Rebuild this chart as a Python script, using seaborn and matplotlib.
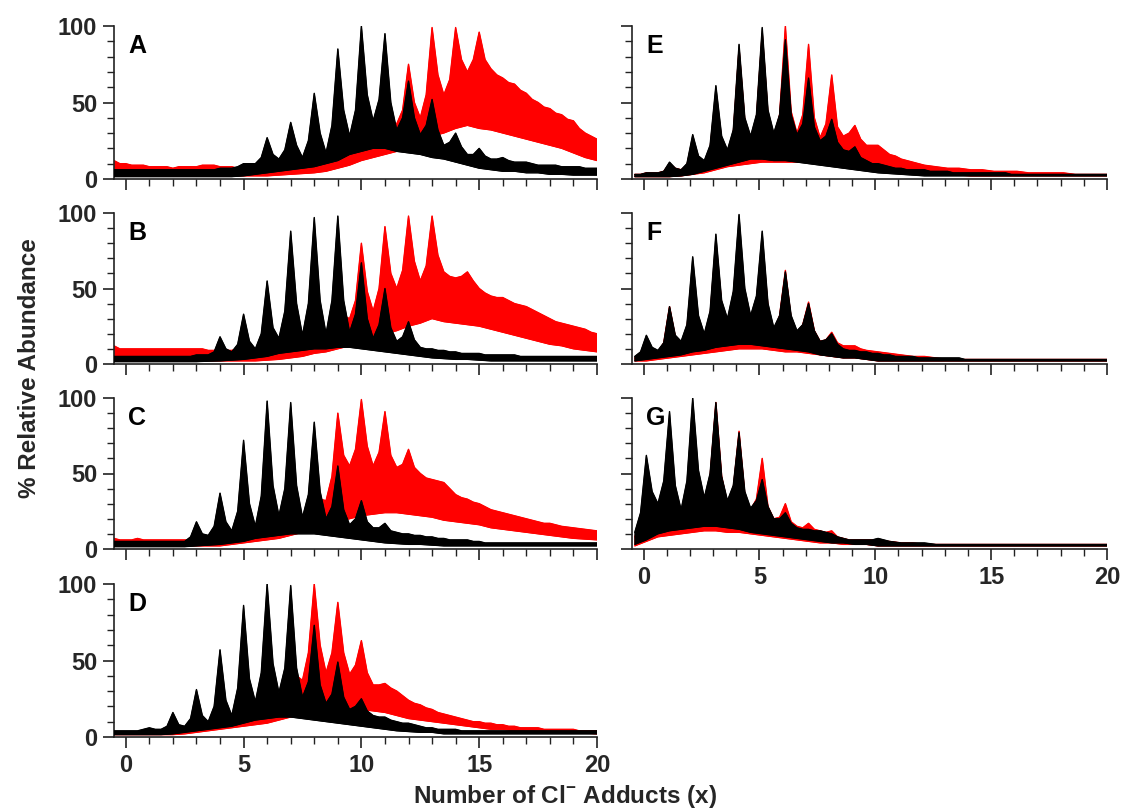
import numpy as np
import matplotlib
matplotlib.use("Agg")
import matplotlib.pyplot as plt
import seaborn as sns
from matplotlib.ticker import MultipleLocator

# ---------------- data ----------------
# sample grid: half-unit steps (peaks at the integers, valleys at the halves);
# the right-column spectra sit ~0.12 to the right of the integers.
x_left = np.arange(42) * 0.5 - 0.5
x_right = np.arange(42) * 0.5 - 0.38
# flank (shoulder) samples lie between each peak and valley
q_left = np.arange(41) * 0.5 - 0.25
q_right = np.arange(41) * 0.5 - 0.13

# Panel A
a_black_hi = [6, 6, 6, 6, 6, 6, 6, 6, 6, 7, 7, 10, 10, 27, 13, 37, 14, 56, 17, 85, 28,
              100, 38, 95, 32, 64, 29, 52, 22, 30, 16, 20, 13, 14, 11, 11, 9, 9, 8, 8, 7, 7]
a_black_sh = [6] * 9 + [7, 8, 10, 14, 16, 19, 22, 25, 30, 35, 45, 45, 55, 52, 50, 40, 40, 35,
                        32, 24, 21, 16, 15, 13, 12, 11, 10, 9, 9, 8, 8, 7]
a_black_lo = [1.5] * 11 + [2, 3, 4, 5, 6, 7, 8, 10, 12, 16, 18, 20, 20, 18, 17, 16, 14, 13,
                           11, 9, 7, 6, 5, 5, 4, 4, 3, 3, 2.5, 2.5, 2.5]
a_red_hi = [12, 10, 9, 8, 8, 7, 8, 8, 9, 8, 8, 6, 6, 7, 8, 8, 9, 10, 10, 13, 16, 25, 30, 42,
            36, 75, 40, 99, 55, 99, 70, 96, 72, 66, 62, 56, 50, 46, 42, 38, 30, 26]
a_red_sh = [10, 9, 9, 8, 8, 8, 8, 9, 9, 8, 7, 6, 7, 8, 8, 9, 9, 10, 11, 14, 18, 26, 34, 38,
            45, 50, 55, 68, 65, 78, 78, 78, 68, 63, 58, 52, 47, 43, 39, 33, 28]
a_red_lo = [2] * 14 + [2.5, 3, 3.5, 4, 5, 7, 9, 12, 14, 16, 18, 20, 24, 28, 30, 33, 35, 33,
                       32, 30, 28, 26, 24, 22, 20, 17, 14, 12]

# Panel B
b_black_hi = [5] * 7 + [6, 6, 18, 8, 33, 10, 55, 17, 88, 19, 97, 20, 98, 21, 67, 17, 50, 15,
                        28, 11, 10, 9, 8, 7, 7, 6, 6, 6, 5] + [5] * 6
b_black_sh = [5] * 7 + [6, 8, 10, 13, 15, 20, 24, 35, 40, 40, 42, 42, 42, 33, 30, 26, 24, 18,
                        16, 10, 9, 8, 7, 7, 6, 6, 6] + [5] * 7
b_black_lo = [1.5] * 8 + [1.8, 2, 2.5, 3, 4, 5, 7, 8, 9, 10, 10, 11, 11, 10, 9, 8, 7, 6, 5,
                          4, 3.5, 3, 3, 2.5] + [2] * 10
b_red_hi = [12, 10, 10, 10, 10, 10, 10, 10, 9, 10, 9, 10, 10, 12, 12, 15, 18, 22, 22, 38, 30,
            80, 35, 91, 50, 98, 55, 98, 61, 57, 61, 50, 45, 44, 40, 38, 34, 30, 27, 25, 23, 20]
b_red_sh = [10, 10, 10, 10, 10, 10, 10, 10, 9, 9, 10, 10, 11, 12, 13, 16, 20, 22, 26, 32, 42,
            48, 50, 60, 62, 68, 65, 72, 58, 58, 55, 47, 44, 42, 39, 36, 32, 28, 26, 24, 21]
b_red_lo = [2] * 13 + [2.5, 3, 4, 5, 7, 8, 10, 12, 15, 17, 20, 22, 25, 27, 30, 28, 27, 26,
                       25, 23, 21, 19, 17, 15, 13, 12, 10, 9, 8]

# Panel C
c_black_hi = [5] * 7 + [18, 9, 37, 12, 72, 15, 98, 22, 97, 21, 84, 20, 55, 16, 32, 14, 17,
                        11, 10, 9, 8, 7, 6, 6, 5] + [4] * 10
c_black_sh = [5] * 6 + [8, 10, 15, 18, 25, 30, 35, 42, 40, 42, 36, 38, 28, 26, 20, 18, 14, 12,
                        10, 9, 8, 7, 6, 6, 5, 4] + [4] * 9
c_black_lo = [1.5] * 7 + [2, 2.5, 3, 4, 5, 7, 8, 9, 10, 10, 10, 9, 8, 7, 6, 5, 4, 3.5, 3, 3,
                          2.5] + [2] * 14
c_red_hi = [7, 6, 7, 6, 6, 6, 6, 6, 6, 8, 7, 16, 10, 17, 12, 43, 20, 37, 32, 90, 55, 99, 55,
            91, 54, 66, 50, 46, 44, 36, 33, 30, 26, 24, 22, 20, 18, 17, 15, 14, 13, 12]
c_red_sh = [6] * 8 + [7, 7, 9, 11, 12, 13, 20, 25, 25, 33, 48, 62, 66, 68, 64, 62, 56, 54, 47,
                      45, 40, 34, 31, 28, 25, 23, 21, 19, 17, 16, 14.5, 13.5, 12.5]
c_red_lo = [2] * 10 + [3, 4, 5, 6, 7, 9, 11, 13, 15, 18, 20, 22, 23, 24, 24, 23, 22, 21, 19,
                       18, 17, 16, 14, 13, 12, 11, 10, 9, 8, 7, 6.5, 6]

# Panel D
d_black_hi = [4, 4, 4, 6, 5, 16, 7, 31, 10, 57, 14, 86, 23, 100, 29, 99, 26, 73, 22, 49, 18,
              25, 14, 13, 10, 9, 7, 6, 5, 5] + [4] * 12
d_black_sh = [4, 4, 5, 5, 7, 8, 12, 14, 20, 24, 32, 38, 42, 48, 45, 45, 36, 34, 28, 26, 20,
              17, 13, 11, 9, 8, 6, 5, 5, 4] + [4] * 11
d_black_lo = [1.5] * 5 + [2, 3, 4, 5, 6, 7, 9, 11, 12, 13, 13, 12, 11, 10, 9, 8, 7, 6, 5, 4,
                          3.5, 3, 3] + [2] * 14
d_red_hi = [3, 3, 3, 3, 3, 4, 4, 14, 6, 25, 8, 39, 10, 52, 15, 50, 37, 100, 42, 88, 41, 63,
            34, 35, 30, 24, 21, 18, 15, 13, 11, 10, 9, 8, 7, 6, 6, 5, 5, 5, 4, 4]
d_red_sh = [3, 3, 3, 3, 3, 4, 6, 8, 10, 12, 16, 18, 22, 26, 25, 40, 55, 60, 55, 55, 47, 42,
            34, 32, 27, 22, 19, 16, 14, 12, 10, 9, 8, 7, 6, 6, 5, 5, 5, 4, 4]
d_red_lo = [1.5] * 6 + [2, 3, 4, 5, 6, 7, 8, 9, 11, 13, 15, 17, 18, 19, 18, 18, 17, 16, 14,
                        12, 11, 10, 9, 8, 7, 6, 5, 5, 4, 4, 3, 3, 3, 2.5, 2.5, 2]

# Panel E
e_black_hi = [3, 4, 4, 11, 6, 29, 12, 61, 19, 88, 28, 99, 30, 91, 29, 66, 25, 39, 19, 21, 12,
              10, 8, 7, 6, 6, 5, 5, 4, 4, 4, 4, 4] + [3] * 9
e_black_sh = [3, 4, 5, 7, 10, 15, 22, 28, 32, 40, 42, 45, 42, 42, 36, 34, 28, 24, 18, 14, 10,
              9, 7, 6, 6, 5, 5, 4, 4, 4, 4, 4, 3] + [3] * 8
e_black_lo = [1.5] * 4 + [2, 3, 5, 7, 9, 11, 13, 13, 12, 12, 11, 10, 9, 8, 7, 6, 5, 4, 3.5,
                          3, 2.5] + [2] * 17
e_red_hi = [3, 4, 4, 10, 6, 26, 10, 55, 17, 85, 25, 95, 27, 100, 30, 88, 27, 68, 28, 35, 22,
            22, 16, 13, 11, 9, 8, 7, 7, 6, 6, 5, 5, 5, 4, 4, 4, 4, 3, 3, 3, 3]
e_red_sh = [3, 4, 5, 7, 9, 14, 20, 26, 30, 38, 40, 42, 42, 44, 42, 40, 36, 34, 30, 26, 22,
            19, 15, 12, 10, 8.5, 7.5, 7, 6.5, 6, 5.5, 5, 5, 4.5, 4, 4, 4, 3.5, 3, 3, 3]
e_red_lo = [1.5] * 4 + [2, 3, 4, 6, 8, 9, 10, 11, 11, 11, 11, 11, 10, 10, 9, 9, 8, 7, 6, 5,
                        4.5, 4, 3.5, 3, 2.5] + [2] * 13

# Panel F
f_black_hi = [5, 19, 9, 38, 15, 71, 20, 86, 30, 99, 32, 88, 24, 61, 22, 40, 15, 20, 10, 9, 8,
              7, 6, 5, 5, 4, 4, 4, 4] + [3] * 13
f_black_sh = [8, 11, 14, 19, 26, 32, 35, 42, 48, 50, 45, 40, 32, 32, 26, 22, 16, 13, 9, 8, 7,
              6, 5, 5, 4, 4, 4, 4, 3] + [3] * 12
f_black_lo = [2, 3, 4, 5, 6, 8, 9, 11, 12, 13, 13, 12, 11, 10, 9, 8, 6, 5, 4, 4, 3] + [2] * 21
f_red_hi = [4, 17, 8, 38, 13, 60, 18, 80, 28, 90, 30, 80, 22, 62, 20, 41, 15, 21, 12, 12, 9,
            8, 7, 6, 5, 5, 4] + [3] * 15
f_red_sh = [7, 10, 14, 18, 24, 28, 32, 40, 45, 46, 42, 38, 32, 30, 26, 22, 16, 14, 12, 10,
            8.5, 7.5, 6.5, 5.5, 5, 4.5, 3.5] + [3] * 14
f_red_lo = [2, 2, 3, 4, 5, 6, 7, 8, 9, 10, 10, 10, 9, 8, 8, 7, 6, 5, 4, 4, 3] + [2] * 21

# Panel G
g_black_hi = [11, 62, 30, 91, 26, 100, 34, 97, 32, 77, 27, 46, 20, 24, 14, 13, 12, 10, 7, 6,
              6, 7, 5, 4, 4, 4] + [3] * 16
g_black_sh = [24, 38, 45, 42, 45, 52, 50, 48, 42, 38, 32, 28, 20, 17, 13, 12, 11, 8, 6, 6, 6,
              6, 4.5, 4, 4, 3.5] + [3] * 15
g_black_lo = [3, 6, 10, 12, 13, 14, 15, 15, 14, 13, 11, 10, 9, 8, 7, 6, 5, 4, 4, 3, 3] + [2] * 21
g_red_hi = [8, 40, 25, 80, 22, 80, 30, 97, 30, 78, 26, 60, 20, 30, 15, 17, 12, 12, 7, 6, 6, 6,
            5, 4, 4] + [3] * 17
g_red_sh = [18, 30, 38, 38, 38, 42, 48, 48, 40, 36, 33, 28, 21, 18, 14, 13, 11, 8, 6, 6, 6, 5,
            4.5, 4, 3.5] + [3] * 16
g_red_lo = [2, 5, 8, 9, 10, 11, 12, 12, 11, 11, 10, 9, 8, 7, 6, 5, 4, 4, 3, 3, 3] + [2] * 21

panel_letters = ["A", "B", "C", "D", "E", "F", "G"]
y_ticks = [0, 50, 100]
x_ticks = [0, 5, 10, 15, 20]
x_label = "Number of Cl$^{-}$ Adducts (x)"
y_label = "% Relative Abundance"

# ---------------- styling ----------------
sns.set_style("ticks")
plt.rcParams["font.family"] = ["Liberation Sans", "DejaVu Sans"]
plt.rcParams["font.weight"] = "bold"
plt.rcParams["mathtext.fontset"] = "custom"
plt.rcParams["mathtext.rm"] = "Liberation Sans:bold"
plt.rcParams["mathtext.it"] = "Liberation Sans:bold"
plt.rcParams["mathtext.bf"] = "Liberation Sans:bold"

W, H = 1130, 811
fig = plt.figure(figsize=(W / 100, H / 100), dpi=100)

left_col = (114, 597)
right_col = (632, 1107)
rows = [(26, 179), (213, 364), (398, 549), (584, 737)]

L = (x_left, q_left)
R = (x_right, q_right)
layout = [
    ("A", left_col, rows[0], L, (a_black_hi, a_black_sh, a_black_lo), (a_red_hi, a_red_sh, a_red_lo), True, False),
    ("B", left_col, rows[1], L, (b_black_hi, b_black_sh, b_black_lo), (b_red_hi, b_red_sh, b_red_lo), True, False),
    ("C", left_col, rows[2], L, (c_black_hi, c_black_sh, c_black_lo), (c_red_hi, c_red_sh, c_red_lo), True, False),
    ("D", left_col, rows[3], L, (d_black_hi, d_black_sh, d_black_lo), (d_red_hi, d_red_sh, d_red_lo), True, True),
    ("E", right_col, rows[0], R, (e_black_hi, e_black_sh, e_black_lo), (e_red_hi, e_red_sh, e_red_lo), False, False),
    ("F", right_col, rows[1], R, (f_black_hi, f_black_sh, f_black_lo), (f_red_hi, f_red_sh, f_red_lo), False, False),
    ("G", right_col, rows[2], R, (g_black_hi, g_black_sh, g_black_lo), (g_red_hi, g_red_sh, g_red_lo), False, True),
]

spine_color = "#222222"


def draw_trace(ax, grids, trace, color, z):
    xg, xq = grids
    hi, sh, lo = trace
    xt = np.concatenate([xg, xq])
    yt = np.concatenate([hi, sh])
    order = np.argsort(xt)
    xt, yt = xt[order], yt[order]
    # band between the upper trace (peaks/flanks/valleys) and the floor of the noise
    ax.fill(np.concatenate([xt, xg[::-1]]), np.concatenate([yt, np.asarray(lo)[::-1]]),
            color=color, lw=0.6, zorder=z)
    sns.lineplot(x=xt, y=yt, color=color, lw=1.0, ax=ax, estimator=None,
                 sort=False, legend=False, zorder=z + 0.5)
    sns.lineplot(x=xg, y=lo, color=color, lw=0.8, ax=ax, estimator=None,
                 sort=False, legend=False, zorder=z + 0.5)


for (letter, (cx0, cx1), (ry0, ry1), grids, black, red, ylab, xlab) in layout:
    ax = fig.add_axes([cx0 / W, 1 - ry1 / H, (cx1 - cx0) / W, (ry1 - ry0) / H])
    draw_trace(ax, grids, red, "#ff0000", 2)
    draw_trace(ax, grids, black, "#000000", 3)
    ax.set_xlim(-0.5, 20)
    ax.set_ylim(0, 100)
    sns.despine(ax=ax)
    for s in ("left", "bottom"):
        ax.spines[s].set_color(spine_color)
        ax.spines[s].set_linewidth(1.2)
    ax.set_xticks(x_ticks)
    ax.set_yticks(y_ticks)
    ax.xaxis.set_minor_locator(MultipleLocator(1))
    ax.yaxis.set_minor_locator(MultipleLocator(10))
    ax.tick_params(which="major", direction="out", length=8, width=1.2,
                   color=spine_color, labelsize=17, pad=4)
    ax.tick_params(which="minor", direction="out", length=5, width=1.0, color=spine_color)
    if not ylab:
        ax.set_yticklabels([])
    if not xlab:
        ax.set_xticklabels([])
    ax.set_xlabel("")
    ax.set_ylabel("")
    ax.text(0.03, 0.87, letter, transform=ax.transAxes, ha="left", va="center",
            fontsize=18, fontweight="bold", color="black", zorder=10)

fig.text(565 / W, 1 - 797 / H, x_label, ha="center", va="center",
         fontsize=17.5, fontweight="bold")
fig.text(30 / W, 1 - 368 / H, y_label, ha="center", va="center",
         rotation=90, fontsize=17.5, fontweight="bold")

fig.savefig("out.png", dpi=100)
